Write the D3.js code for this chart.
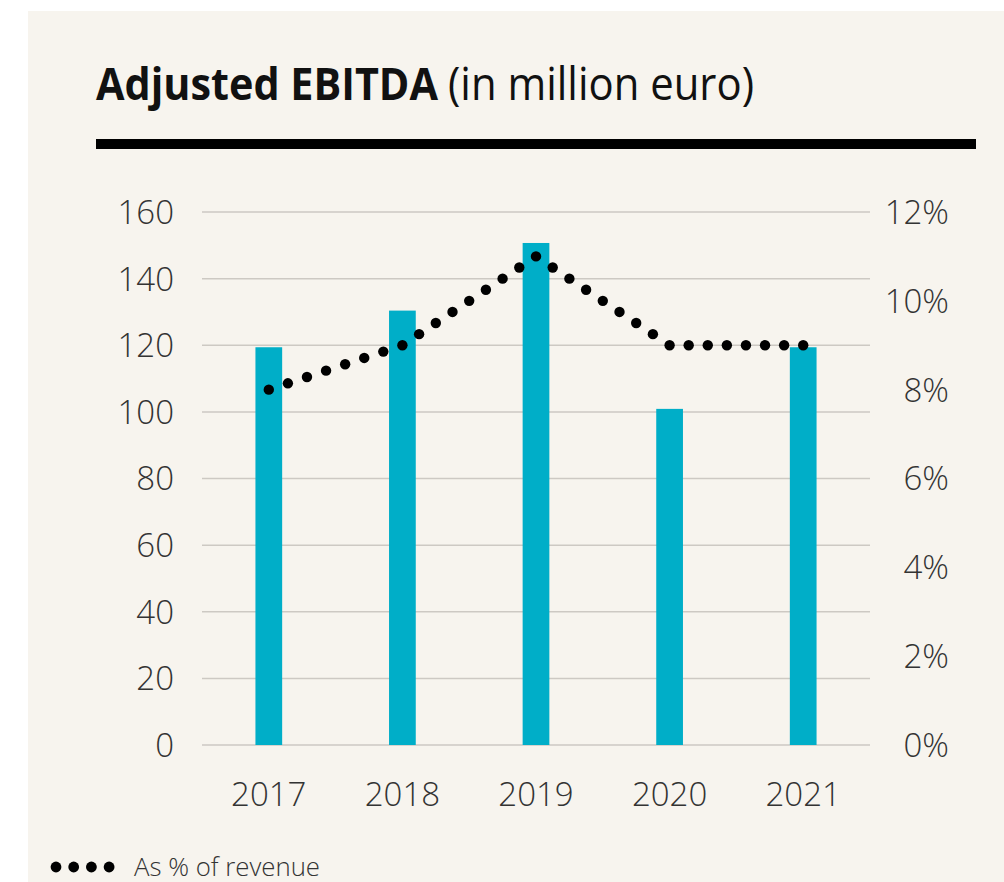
<!DOCTYPE html>
<html>
<head>
<meta charset="utf-8">
<script src="https://cdn.jsdelivr.net/npm/d3@7"></script>
<style>
  html, body { margin: 0; padding: 0; background: #fff; }
  svg { display: block; }
  text { font-family: "Open Sans", "Noto Sans", sans-serif; }
</style>
</head>
<body>
<div id="chart"></div>
<script>
"use strict";
var years = ["2017", "2018", "2019", "2020", "2021"];
var ebitda = [119.4, 130.4, 150.7, 100.9, 119.4];
var pctRevenue = [8, 9, 11, 9, 9];
var leftTicks = [0, 20, 40, 60, 80, 100, 120, 140, 160];
var rightTicks = [0, 2, 4, 6, 8, 10, 12];

var W = 1004, H = 882;
var barColor = "#00aec8";
var textColor = "#333";

var svg = d3.select("#chart").append("svg")
  .attr("width", W)
  .attr("height", H);

// panel background
svg.append("rect")
  .attr("x", 28).attr("y", 11)
  .attr("width", W - 28).attr("height", H - 11)
  .attr("fill", "#f7f4ee");

// title
var title = svg.append("text")
  .attr("x", 96).attr("y", 100)
  .attr("font-size", 45)
  .attr("fill", "#111");
title.append("tspan")
  .attr("font-weight", 700)
  .attr("textLength", 342)
  .attr("lengthAdjust", "spacingAndGlyphs")
  .text("Adjusted EBITDA");
title.append("tspan")
  .attr("x", 448)
  .attr("font-weight", 400)
  .attr("textLength", 306)
  .attr("lengthAdjust", "spacingAndGlyphs")
  .text("(in million euro)");

svg.append("rect")
  .attr("x", 96).attr("y", 139)
  .attr("width", 880).attr("height", 10)
  .attr("fill", "#000");

// scales
var x = d3.scaleBand()
  .domain(years)
  .range([202, 870])
  .paddingInner(0.8)
  .paddingOuter(0.4);

var y = d3.scaleLinear().domain([0, 160]).range([745, 212]);
var y2 = d3.scaleLinear().domain([0, 12]).range([745, 212]);

// gridlines
svg.append("g")
  .selectAll("line")
  .data(leftTicks)
  .enter().append("line")
  .attr("x1", 202).attr("x2", 870)
  .attr("y1", function(d) { return y(d); })
  .attr("y2", function(d) { return y(d); })
  .attr("stroke", "#cdc9c3")
  .attr("stroke-width", 1.5);

// left axis labels
svg.append("g")
  .selectAll("text")
  .data(leftTicks)
  .enter().append("text")
  .attr("x", 174)
  .attr("y", function(d) { return y(d); })
  .attr("dy", "0.36em")
  .attr("text-anchor", "end")
  .attr("font-size", 33)
  .attr("font-weight", 300)
  .attr("fill", textColor)
  .text(function(d) { return d; });

// right axis labels
svg.append("g")
  .selectAll("text")
  .data(rightTicks)
  .enter().append("text")
  .attr("x", 949)
  .attr("y", function(d) { return y2(d); })
  .attr("dy", "0.36em")
  .attr("text-anchor", "end")
  .attr("font-size", 33)
  .attr("font-weight", 300)
  .attr("fill", textColor)
  .text(function(d) { return d + "%"; });

// year labels
svg.append("g")
  .selectAll("text")
  .data(years)
  .enter().append("text")
  .attr("x", function(d) { return x(d) + x.bandwidth() / 2; })
  .attr("y", 806)
  .attr("text-anchor", "middle")
  .attr("font-size", 33)
  .attr("font-weight", 300)
  .attr("fill", textColor)
  .text(function(d) { return d; });

// bars
svg.append("g")
  .selectAll("rect")
  .data(ebitda)
  .enter().append("rect")
  .attr("x", function(d, i) { return x(years[i]); })
  .attr("y", function(d) { return y(d); })
  .attr("width", x.bandwidth())
  .attr("height", function(d) { return y(0) - y(d); })
  .attr("fill", barColor);

// dotted line: dots spaced ~20px along each segment, one at every vertex
var pts = pctRevenue.map(function(d, i) {
  return [x(years[i]) + x.bandwidth() / 2, y2(d)];
});
var dots = [pts[0]];
for (var i = 1; i < pts.length; i++) {
  var a = pts[i - 1], b = pts[i];
  var len = Math.hypot(b[0] - a[0], b[1] - a[1]);
  var n = Math.round(len / 20);
  for (var k = 1; k <= n; k++) {
    dots.push([a[0] + (b[0] - a[0]) * k / n, a[1] + (b[1] - a[1]) * k / n]);
  }
}
svg.append("g")
  .selectAll("circle")
  .data(dots)
  .enter().append("circle")
  .attr("cx", function(d) { return d[0]; })
  .attr("cy", function(d) { return d[1]; })
  .attr("r", 5.2)
  .attr("fill", "#000");

// legend
var legend = svg.append("g");
legend.selectAll("circle")
  .data([0, 1, 2, 3])
  .enter().append("circle")
  .attr("cx", function(d) { return 56 + d * 17.7; })
  .attr("cy", 867)
  .attr("r", 5.4)
  .attr("fill", "#000");
legend.append("text")
  .attr("x", 134).attr("y", 876)
  .attr("font-size", 25)
  .attr("font-weight", 300)
  .attr("fill", textColor)
  .attr("textLength", 186)
  .attr("lengthAdjust", "spacingAndGlyphs")
  .text("As % of revenue");
</script>
</body>
</html>
